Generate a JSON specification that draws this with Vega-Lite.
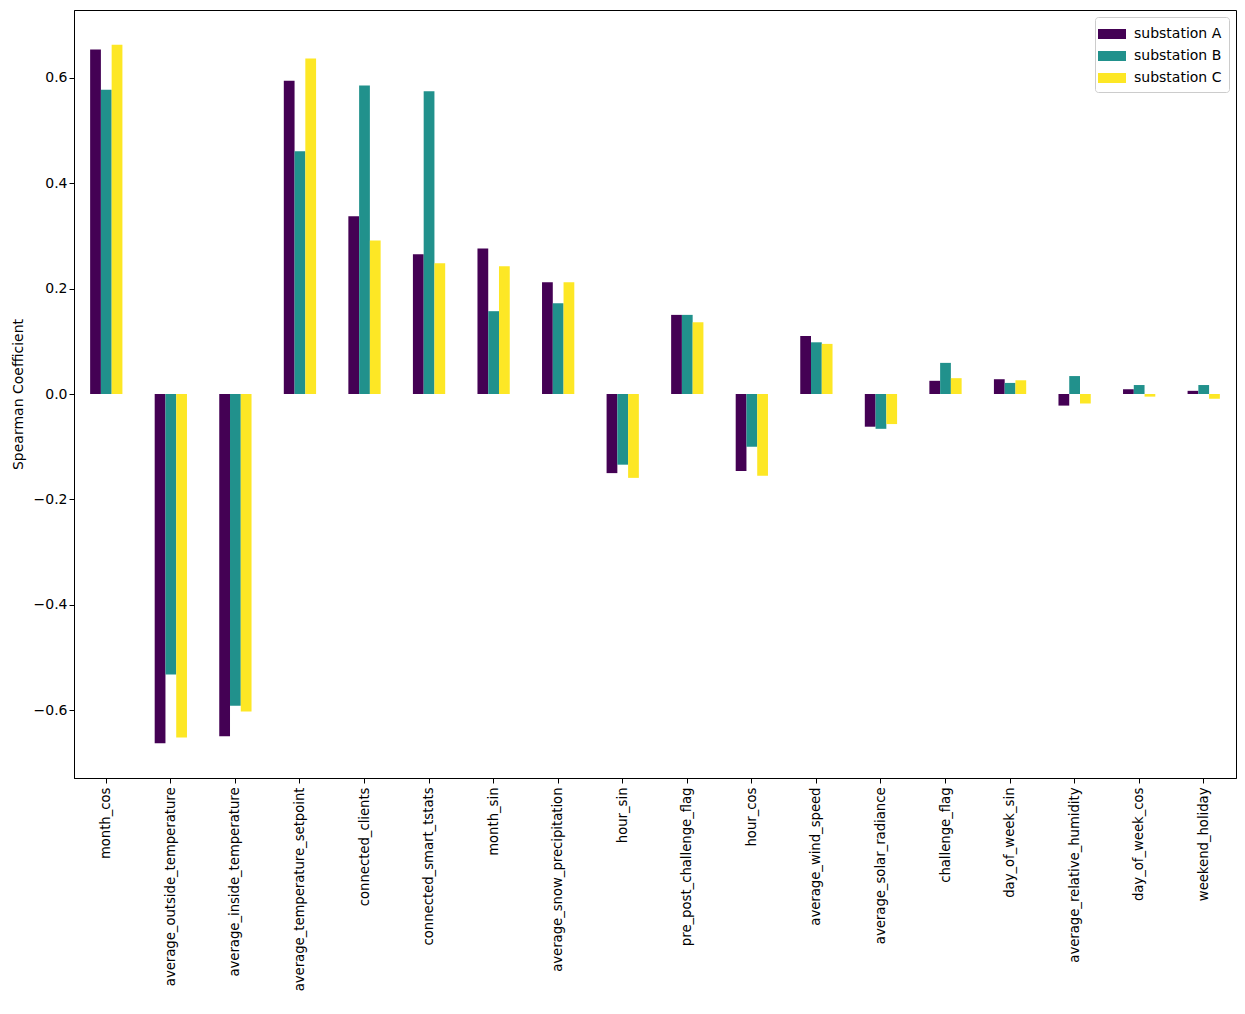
{
  "$schema": "https://vega.github.io/schema/vega-lite/v6.json",
  "width": 1162,
  "height": 768,
  "autosize": {"type": "none"},
  "padding": {"left": 74, "top": 10, "right": 9, "bottom": 236},
  "data": {
    "values": [
      {"feature": "month_cos", "substation": "substation A", "value": 0.653},
      {"feature": "month_cos", "substation": "substation B", "value": 0.577},
      {"feature": "month_cos", "substation": "substation C", "value": 0.662},
      {"feature": "average_outside_temperature", "substation": "substation A", "value": -0.662},
      {"feature": "average_outside_temperature", "substation": "substation B", "value": -0.532},
      {"feature": "average_outside_temperature", "substation": "substation C", "value": -0.651},
      {"feature": "average_inside_temperature", "substation": "substation A", "value": -0.649},
      {"feature": "average_inside_temperature", "substation": "substation B", "value": -0.591},
      {"feature": "average_inside_temperature", "substation": "substation C", "value": -0.602},
      {"feature": "average_temperature_setpoint", "substation": "substation A", "value": 0.594},
      {"feature": "average_temperature_setpoint", "substation": "substation B", "value": 0.46},
      {"feature": "average_temperature_setpoint", "substation": "substation C", "value": 0.636},
      {"feature": "connected_clients", "substation": "substation A", "value": 0.337},
      {"feature": "connected_clients", "substation": "substation B", "value": 0.585},
      {"feature": "connected_clients", "substation": "substation C", "value": 0.291},
      {"feature": "connected_smart_tstats", "substation": "substation A", "value": 0.265},
      {"feature": "connected_smart_tstats", "substation": "substation B", "value": 0.574},
      {"feature": "connected_smart_tstats", "substation": "substation C", "value": 0.248},
      {"feature": "month_sin", "substation": "substation A", "value": 0.276},
      {"feature": "month_sin", "substation": "substation B", "value": 0.157},
      {"feature": "month_sin", "substation": "substation C", "value": 0.242},
      {"feature": "average_snow_precipitation", "substation": "substation A", "value": 0.212},
      {"feature": "average_snow_precipitation", "substation": "substation B", "value": 0.172},
      {"feature": "average_snow_precipitation", "substation": "substation C", "value": 0.212},
      {"feature": "hour_sin", "substation": "substation A", "value": -0.15},
      {"feature": "hour_sin", "substation": "substation B", "value": -0.134},
      {"feature": "hour_sin", "substation": "substation C", "value": -0.159},
      {"feature": "pre_post_challenge_flag", "substation": "substation A", "value": 0.15},
      {"feature": "pre_post_challenge_flag", "substation": "substation B", "value": 0.15},
      {"feature": "pre_post_challenge_flag", "substation": "substation C", "value": 0.136},
      {"feature": "hour_cos", "substation": "substation A", "value": -0.146},
      {"feature": "hour_cos", "substation": "substation B", "value": -0.1},
      {"feature": "hour_cos", "substation": "substation C", "value": -0.155},
      {"feature": "average_wind_speed", "substation": "substation A", "value": 0.11},
      {"feature": "average_wind_speed", "substation": "substation B", "value": 0.098},
      {"feature": "average_wind_speed", "substation": "substation C", "value": 0.095},
      {"feature": "average_solar_radiance", "substation": "substation A", "value": -0.062},
      {"feature": "average_solar_radiance", "substation": "substation B", "value": -0.066},
      {"feature": "average_solar_radiance", "substation": "substation C", "value": -0.057},
      {"feature": "challenge_flag", "substation": "substation A", "value": 0.025},
      {"feature": "challenge_flag", "substation": "substation B", "value": 0.059},
      {"feature": "challenge_flag", "substation": "substation C", "value": 0.03},
      {"feature": "day_of_week_sin", "substation": "substation A", "value": 0.028},
      {"feature": "day_of_week_sin", "substation": "substation B", "value": 0.021},
      {"feature": "day_of_week_sin", "substation": "substation C", "value": 0.026},
      {"feature": "average_relative_humidity", "substation": "substation A", "value": -0.022},
      {"feature": "average_relative_humidity", "substation": "substation B", "value": 0.034},
      {"feature": "average_relative_humidity", "substation": "substation C", "value": -0.018},
      {"feature": "day_of_week_cos", "substation": "substation A", "value": 0.009},
      {"feature": "day_of_week_cos", "substation": "substation B", "value": 0.017},
      {"feature": "day_of_week_cos", "substation": "substation C", "value": -0.005},
      {"feature": "weekend_holiday", "substation": "substation A", "value": 0.006},
      {"feature": "weekend_holiday", "substation": "substation B", "value": 0.017},
      {"feature": "weekend_holiday", "substation": "substation C", "value": -0.009}
    ]
  },
  "mark": {"type": "bar"},
  "encoding": {
    "x": {
      "field": "feature",
      "type": "nominal",
      "sort": null,
      "scale": {"paddingInner": 0.5, "paddingOuter": 0.25},
      "axis": {"title": null, "labelAngle": -90, "labelPadding": 4, "labelLimit": 0, "labelFontSize": 13.2}
    },
    "xOffset": {"field": "substation", "type": "nominal"},
    "y": {
      "field": "value",
      "type": "quantitative",
      "scale": {"domain": [-0.728, 0.728], "nice": false, "zero": false},
      "axis": {
        "title": "Spearman Coefficient",
        "values": [-0.6, -0.4, -0.2, 0, 0.2, 0.4, 0.6],
        "format": ".1f",
        "grid": false
      }
    },
    "color": {
      "field": "substation",
      "type": "nominal",
      "scale": {"range": ["#440154", "#21918c", "#fde725"]},
      "legend": {
        "title": null,
        "orient": "top-right",
        "offset": 7,
        "padding": 7,
        "strokeColor": "#cccccc",
        "cornerRadius": 3,
        "fillColor": "#ffffff",
        "symbolType": "M-1.4,-0.5H1.4V0.5H-1.4Z",
        "symbolSize": 400,
        "symbolStrokeWidth": 0,
        "symbolOpacity": 1,
        "labelFontSize": 14,
        "labelFont": "DejaVu Sans",
        "labelColor": "#000000",
        "rowPadding": 5,
        "labelOffset": 12
      }
    }
  },
  "config": {
    "view": {"stroke": "#000000", "strokeWidth": 1},
    "axis": {
      "labelFont": "DejaVu Sans",
      "labelFontSize": 14,
      "labelColor": "#000000",
      "titleFont": "DejaVu Sans",
      "titleFontSize": 14,
      "titleFontWeight": "normal",
      "titleColor": "#000000",
      "domainColor": "#000000",
      "tickColor": "#000000",
      "tickSize": 5
    },
    "axisY": {"titlePadding": 8}
  }
}
